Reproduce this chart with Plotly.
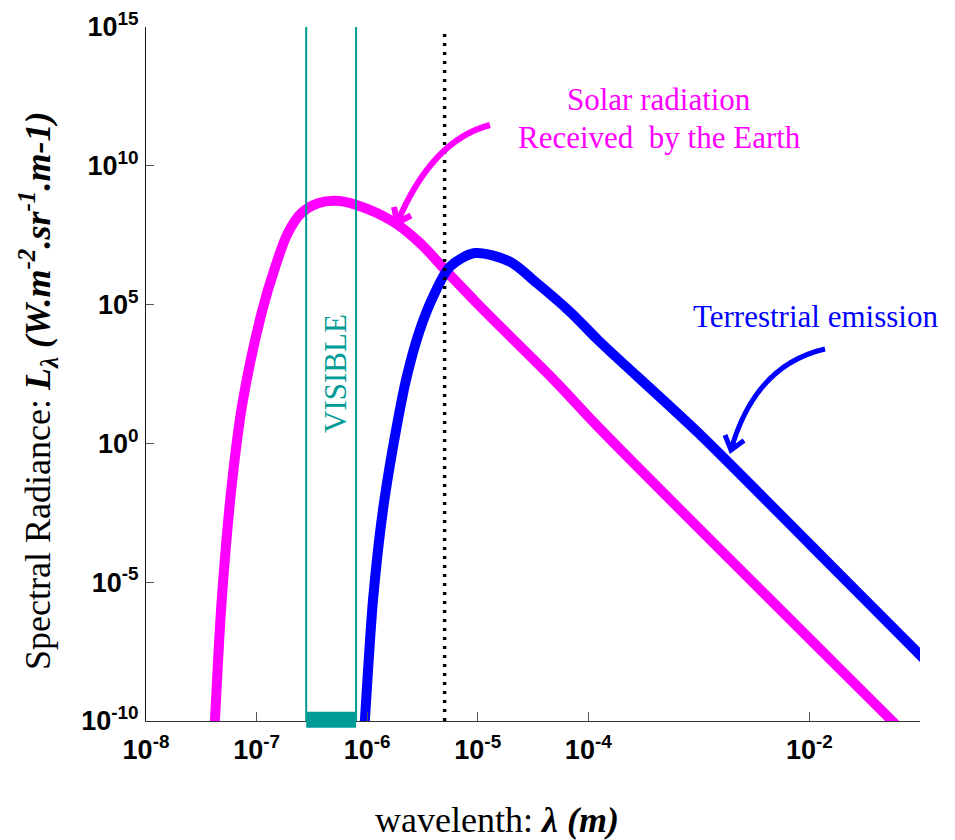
import plotly.graph_objects as go

# ---------------- data ----------------
solar_wavelength = [4.06e-8, 4.2e-8, 4.82e-8, 5.94e-8, 7.46e-8, 1.11e-7, 1.47e-7,
                    1.92e-7, 2.55e-7, 3.59e-7, 5.12e-7, 8.0e-7, 1.71e-6, 3.0e-6, 5.24e-6,
                    9.8e-6, 2.25e-5, 5.2e-5, 1.23e-4, 5.6e-2, 1.0e-1]
solar_radiance = [1e-11, 1e-10, 1.8e-6, 2.7e-2, 2.9e1, 5.0e4, 2.2e6,
                  3.8e7, 2.0e8, 4.5e8, 5.5e8, 3.9e8, 9.8e7, 1.66e7, 1.55e6,
                  1.15e5, 4.2e3, 1.5e2, 3.9e0, 1e-10, 1e-11]

earth_wavelength = [9.16e-7, 9.53e-7, 1.13e-6, 1.39e-6, 1.85e-6, 2.28e-6, 3.0e-6, 3.94e-6,
                    5.6e-6, 9.44e-6, 1.96e-5, 3.42e-5, 6.84e-5, 1.23e-4, 1.0e-3, 1.0e-2,
                    1.0e-1, 1.26e-1]
earth_radiance = [1e-11, 1e-10, 2.3e-6, 4.0e-3, 4.0e0, 2.5e2, 1.23e4, 1.9e5,
                  2.3e6, 7.2e6, 3.5e6, 6.0e5, 5.5e4, 5.2e3, 2.3e0, 2.4e-4,
                  2.4e-8, 9.5e-9]

visible_band = [2.81e-7, 7.94e-7]      # edges of the VISIBLE band (m)
dotted_wavelength = 5.02e-6            # dotted vertical marker (m)

x_tickvals = [1e-8, 1e-7, 1e-6, 1e-5, 1e-4, 1e-2]
x_ticktext = ["10<sup>-8</sup>", "10<sup>-7</sup>", "10<sup>-6</sup>",
              "10<sup>-5</sup>", "10<sup>-4</sup>", "10<sup>-2</sup>"]
y_tickvals = [1e-10, 1e-5, 1e0, 1e5, 1e10, 1e15]
y_ticktext = ["10<sup>-10</sup>", "10<sup>-5</sup>", "10<sup>0</sup>",
              "10<sup>5</sup>", "10<sup>10</sup>", "10<sup>15</sup>"]

# ---------------- styling ----------------
W, H = 955, 840
ML, MR, MT, MB = 146, 35, 27, 119
PW, PH = W - ML - MR, H - MT - MB

MAGENTA = "#FF00FF"
BLUE = "#0000FF"
TEAL = "#009B95"
SERIF = "Liberation Serif, Times New Roman, serif"
TICKFONT = dict(family="Liberation Sans Narrow, Arial Narrow, Liberation Sans, Arial",
                size=27, color="#000000", weight="bold")


def P(px, py):
    """pixel position in the page -> paper coordinates"""
    return (px - ML) / PW, (MT + PH - py) / PH


def pt(px, py):
    x, y = P(px, py)
    return f"{x:.5f},{y:.5f}"


fig = go.Figure()

fig.add_trace(go.Scatter(x=solar_wavelength, y=solar_radiance, mode="lines",
                         line=dict(color=MAGENTA, width=10, shape="spline", smoothing=1.0),
                         hoverinfo="skip", showlegend=False))
fig.add_trace(go.Scatter(x=earth_wavelength, y=earth_radiance, mode="lines",
                         line=dict(color=BLUE, width=10, shape="spline", smoothing=0.8),
                         hoverinfo="skip", showlegend=False))

shapes = []
# visible band lines
for v in visible_band:
    shapes.append(dict(type="line", xref="x", yref="paper", x0=v, x1=v, y0=0, y1=1,
                       line=dict(color=TEAL, width=2)))
# visible band bar on the axis
y0b = P(0, 727.7)[1]
y1b = P(0, 711.7)[1]
shapes.append(dict(type="rect", xref="x", yref="paper", x0=visible_band[0],
                   x1=visible_band[1], y0=y0b, y1=y1b, fillcolor=TEAL,
                   line=dict(width=0)))
# dotted line
shapes.append(dict(type="line", xref="x", yref="paper", x0=dotted_wavelength,
                   x1=dotted_wavelength, y0=0, y1=P(0, 31)[1],
                   line=dict(color="#000000", width=3.5, dash="3px,6px")))

# curved arrows (paper coordinates)
mag_path = (f"M {pt(490,125)} Q {pt(432,140)} {pt(397.3,222.7)} "
            f"M {pt(394,207)} L {pt(397.3,222.7)} L {pt(411,215.5)}")
shapes.append(dict(type="path", xref="paper", yref="paper", path=mag_path,
                   line=dict(color=MAGENTA, width=6)))
blue_path = (f"M {pt(825,349)} Q {pt(755,365)} {pt(731,450)} "
             f"M {pt(725,435)} L {pt(731,450)} L {pt(744,440.5)}")
shapes.append(dict(type="path", xref="paper", yref="paper", path=blue_path,
                   line=dict(color=BLUE, width=5)))

annotations = []


def add_text(text, px, py, size, color, angle=0):
    x, y = P(px, py)
    annotations.append(dict(text=text, xref="paper", yref="paper", x=x, y=y,
                            xanchor="center", yanchor="middle", showarrow=False,
                            textangle=angle,
                            font=dict(family=SERIF, size=size, color=color)))


add_text("Solar radiation", 659, 100, 31, MAGENTA)
add_text("Received\u00a0 by the Earth", 659, 137, 31, MAGENTA)
add_text("Terrestrial emission", 815, 316, 31, BLUE)
add_text("VISIBLE", 335, 374, 31, TEAL, angle=-90)
add_text("Spectral Radiance: <b><i>L<sub>λ</sub> (W.m<sup>-2</sup>.sr<sup>-1</sup>.m-1)</i></b>",
         38, 391, 36, "#000000", angle=-90)
add_text("wavelenth: <b><i>λ (m)</i></b>", 497, 820, 36, "#000000")

fig.update_layout(
    width=W, height=H,
    margin=dict(l=ML, r=MR, t=MT, b=MB, pad=0),
    paper_bgcolor="white", plot_bgcolor="white",
    shapes=shapes, annotations=annotations,
    showlegend=False,
    xaxis=dict(type="log", range=[-8, -1], tickvals=x_tickvals, ticktext=x_ticktext,
               ticks="inside", ticklen=9, tickcolor="#555555", tickwidth=1,
               showline=True, linecolor="#333333", linewidth=1, mirror=False,
               showgrid=False, zeroline=False, tickfont=TICKFONT, automargin=False,
               ticklabelstandoff=5),
    yaxis=dict(type="log", range=[-10, 15], tickvals=y_tickvals, ticktext=y_ticktext,
               ticks="inside", ticklen=8, tickcolor="#555555", tickwidth=1,
               showline=True, linecolor="#111111", linewidth=1, mirror=False,
               showgrid=False, zeroline=False, tickfont=TICKFONT, automargin=False,
               ticklabelstandoff=1),
)

fig.write_html("out.html")
